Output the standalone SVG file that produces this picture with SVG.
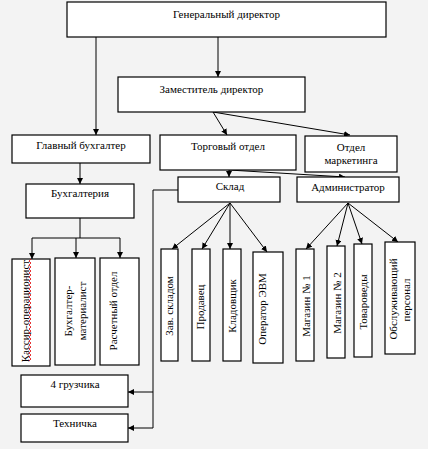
<svg xmlns="http://www.w3.org/2000/svg" width="428" height="449" viewBox="0 0 428 449">
<style>
.bg{fill:#f3f3f3}
.box{fill:#fff;stroke:#000;stroke-width:1.2}
.t{font-family:"Liberation Serif","Times New Roman",serif;font-size:11px;fill:#000;text-anchor:middle}
.c{fill:none;stroke:#000;stroke-width:1}
.a{fill:none;stroke:#000;stroke-width:1;marker-end:url(#ah)}
</style>
<defs>
<marker id="ah" markerUnits="userSpaceOnUse" markerWidth="7" markerHeight="7" refX="6" refY="3" orient="auto">
<path d="M0,0 L6,3 L0,6 z" fill="#000"/>
</marker>
</defs>
<rect class="bg" x="0" y="0" width="428" height="449"/>
<g id="connectors">
<line class="a" x1="96" y1="37" x2="96" y2="135"/>
<line class="a" x1="218" y1="37" x2="218" y2="77"/>
<line class="a" x1="213" y1="112" x2="227" y2="135"/>
<line class="a" x1="213" y1="112" x2="350" y2="135"/>
<line class="a" x1="80" y1="163" x2="80" y2="184"/>
<polyline class="c" points="80,218 80,238"/>
<polyline class="c" points="32,238 120,238"/>
<line class="a" x1="32" y1="238" x2="32" y2="259"/>
<line class="a" x1="76" y1="238" x2="76" y2="258"/>
<line class="a" x1="120" y1="238" x2="120" y2="258"/>
<line class="a" x1="229" y1="169" x2="229" y2="177"/>
<line class="a" x1="229" y1="170" x2="345" y2="177"/>
<polyline class="c" points="178,190 153,190 153,428"/>
<line class="a" x1="153" y1="392" x2="128" y2="392"/>
<line class="a" x1="153" y1="428" x2="128" y2="428"/>
<line class="a" x1="230" y1="203" x2="172" y2="249"/>
<line class="a" x1="230" y1="203" x2="202" y2="249"/>
<line class="a" x1="230" y1="203" x2="230" y2="249"/>
<line class="a" x1="230" y1="203" x2="267" y2="252"/>
<line class="a" x1="348" y1="203" x2="306" y2="249"/>
<line class="a" x1="348" y1="203" x2="337" y2="246"/>
<line class="a" x1="348" y1="203" x2="362" y2="244"/>
<line class="a" x1="348" y1="203" x2="398" y2="242"/>
</g>
<g id="gen-director"><rect class="box" x="67" y="2" width="319" height="35"/><text class="t" x="226.5" y="18">Генеральный директор</text></g>
<g id="deputy"><rect class="box" x="118" y="77" width="187" height="35"/><text class="t" x="211.5" y="93">Заместитель директор</text></g>
<g id="chief-accountant"><rect class="box" x="12" y="135" width="138" height="28"/><text class="t" x="81" y="149">Главный бухгалтер</text></g>
<g id="trade-dept"><rect class="box" x="160" y="135" width="136" height="35"/><text class="t" x="228" y="150">Торговый отдел</text></g>
<g id="marketing"><rect class="box" x="305" y="136" width="92" height="36"/><text class="t" x="351" y="151">Отдел</text><text class="t" x="351" y="164">маркетинга</text></g>
<g id="accounting"><rect class="box" x="26" y="184" width="108" height="34"/><text class="t" x="80" y="197">Бухгалтерия</text></g>
<g id="warehouse"><rect class="box" x="178" y="177" width="102" height="25"/><text class="t" x="230" y="190">Склад</text></g>
<g id="administrator"><rect class="box" x="297" y="177" width="102" height="25"/><text class="t" x="348" y="191">Администратор</text></g>
<g id="cashier"><rect class="box" x="12" y="259" width="38" height="107"/><text class="t" transform="translate(29,311) rotate(-90)">Кассир-операционист</text>
<path d="M29,361 l2,-2 l-2,-2 l2,-2 l-2,-2 l2,-2 l-2,-2 l2,-2 l-2,-2 l2,-2 l-2,-2 l2,-2 l-2,-2 l2,-2 l-2,-2 l2,-2 l-2,-2 l2,-2 l-2,-2 l2,-2 l-2,-2 l2,-2 l-2,-2 l2,-2 l-2,-2 l2,-2 l-2,-2 l2,-2 l-2,-2 l2,-2 l-2,-2 l2,-2 l-2,-2 l2,-2 l-2,-2 l2,-2 l-2,-2 l2,-2 l-2,-2 l2,-2 l-2,-2 l2,-2 l-2,-2 l2,-2 l-2,-2 l2,-2 l-2,-2 l2,-2 l-2,-2 l2,-2 l-2,-2 l2,-2" fill="none" stroke="#e00000" stroke-width="0.8"/></g>
<g id="accountant-materials"><rect class="box" x="55" y="258" width="40" height="107"/><text class="t" transform="translate(72,311) rotate(-90)">Бухгалтер-</text><text class="t" transform="translate(86,311) rotate(-90)">материалист</text></g>
<g id="payroll"><rect class="box" x="100" y="258" width="39" height="107"/><text class="t" transform="translate(117,311) rotate(-90)">Расчетный отдел</text></g>
<g id="warehouse-head"><rect class="box" x="161" y="249" width="17" height="112"/><text class="t" transform="translate(173,306) rotate(-90)">Зав. складом</text></g>
<g id="seller"><rect class="box" x="192" y="249" width="18" height="112"/><text class="t" transform="translate(204,307) rotate(-90)">Продавец</text></g>
<g id="storekeeper"><rect class="box" x="223" y="249" width="18" height="112"/><text class="t" transform="translate(236,306) rotate(-90)">Кладовщик</text></g>
<g id="operator"><rect class="box" x="253" y="252" width="30" height="111"/><text class="t" transform="translate(266,309) rotate(-90)">Оператор ЭВМ</text></g>
<g id="shop1"><rect class="box" x="296" y="249" width="18" height="112"/><text class="t" transform="translate(310,306) rotate(-90)">Магазин № 1</text></g>
<g id="shop2"><rect class="box" x="327" y="246" width="18" height="112"/><text class="t" transform="translate(341,303) rotate(-90)">Магазин № 2</text></g>
<g id="merchandisers"><rect class="box" x="354" y="244" width="18" height="113"/><text class="t" transform="translate(367,302) rotate(-90)">Товароведы</text></g>
<g id="service-staff"><rect class="box" x="385" y="242" width="30" height="112"/><text class="t" transform="translate(397,299) rotate(-90)">Обслуживающий</text><text class="t" transform="translate(410,300) rotate(-90)">персонал</text></g>
<g id="loaders"><rect class="box" x="21" y="375" width="107" height="32"/><text class="t" x="75" y="388">4 грузчика</text></g>
<g id="cleaner"><rect class="box" x="21" y="414" width="107" height="28"/><text class="t" x="75" y="427">Техничка</text></g>
</svg>
